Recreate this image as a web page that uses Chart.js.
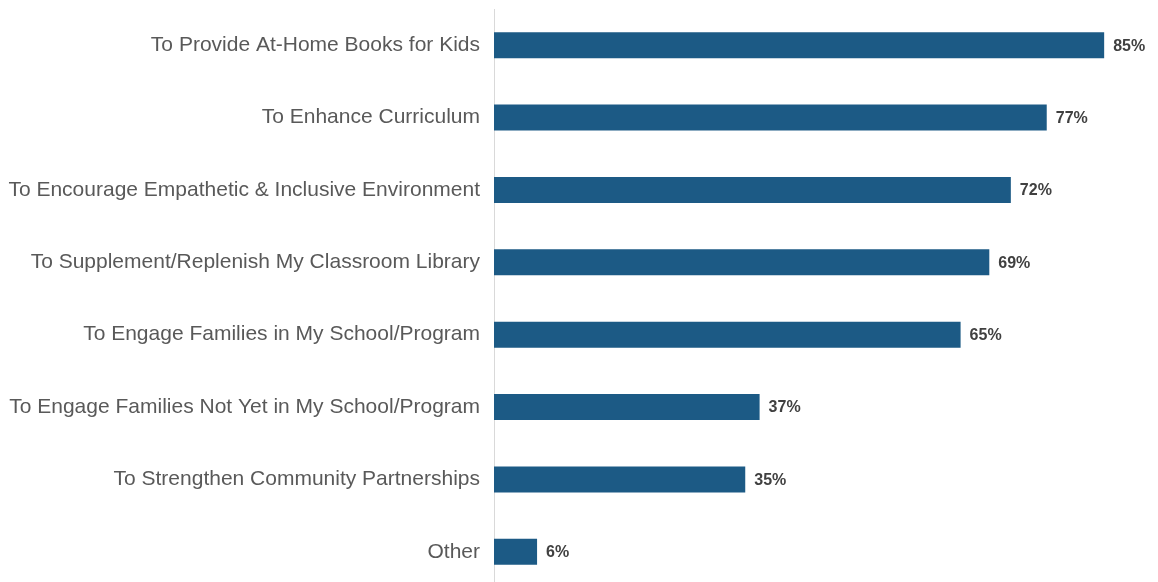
<!DOCTYPE html>
<html>
<head>
<style>
    html, body { margin: 0; padding: 0; background: #fff; overflow: hidden; }
    #wrap { position: relative; width: 1158px; height: 588px; }
</style>
</head>
<body>
<div id="wrap">
    <canvas id="chart"></canvas>
</div>

<script src="https://cdn.jsdelivr.net/npm/chart.js"></script>
<script type="text/javascript">
    const reasons = [
        'To Provide At-Home Books for Kids',
        'To Enhance Curriculum',
        'To Encourage Empathetic & Inclusive Environment',
        'To Supplement/Replenish My Classroom Library',
        'To Engage Families in My School/Program',
        'To Engage Families Not Yet in My School/Program',
        'To Strengthen Community Partnerships',
        'Other'
    ];
    const percents = [85, 77, 72, 69, 65, 37, 35, 6];

    // writes "NN%" just past the end of each bar
    const valueLabels = {
        id: 'valueLabels',
        afterDatasetsDraw(chart) {
            const ctx = chart.ctx;
            const meta = chart.getDatasetMeta(0);
            ctx.save();
            ctx.font = 'bold 16px "Liberation Sans", Arial, sans-serif';
            ctx.fillStyle = '#404040';
            ctx.textAlign = 'left';
            ctx.textBaseline = 'middle';
            meta.data.forEach((bar, i) => {
                ctx.fillText(percents[i] + '%', bar.x + 9, bar.y + 1);
            });
            ctx.restore();
        }
    };

    new Chart(document.getElementById('chart'), {
        type: 'bar',
        data: {
            labels: reasons,
            datasets: [{
                data: percents,
                backgroundColor: '#1c5a85',
                borderWidth: 0,
                categoryPercentage: 1,
                barPercentage: 0.36
            }]
        },
        options: {
            indexAxis: 'y',
            responsive: true,
            maintainAspectRatio: false,
            animation: false,
            layout: {
                padding: { top: 9, right: 0, bottom: 0, left: 0 }
            },
            scales: {
                x: {
                    display: false,
                    min: 0,
                    max: 92.5
                },
                y: {
                    grid: { display: false, drawTicks: false },
                    border: { display: true, color: '#d9d9d9', width: 1 },
                    ticks: {
                        padding: 14,
                        color: '#595959',
                        font: { family: '"Liberation Sans", Arial, sans-serif', size: 21 }
                    },
                    afterFit(scale) {
                        scale.width = 494;
                        scale.paddingTop = 0;
                        scale.paddingBottom = 0;
                    }
                }
            },
            plugins: {
                legend: { display: false },
                tooltip: { enabled: false }
            }
        },
        plugins: [valueLabels]
    });
</script>
</body>
</html>
